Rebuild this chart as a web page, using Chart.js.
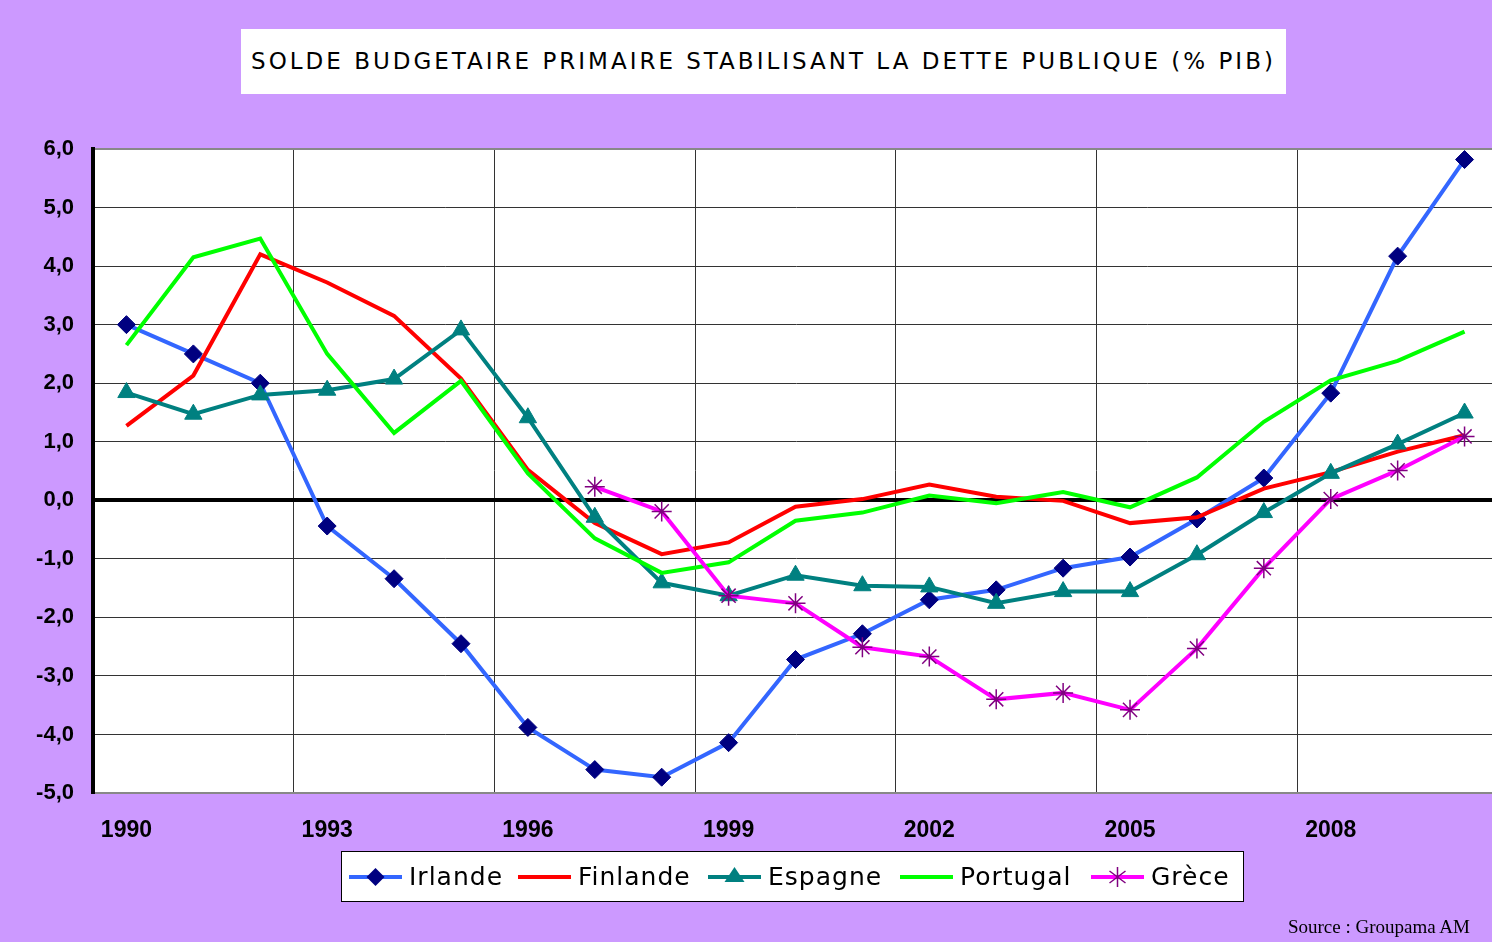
<!DOCTYPE html>
<html>
<head>
<meta charset="utf-8">
<script src="https://cdn.jsdelivr.net/npm/chart.js@4/dist/chart.umd.min.js"></script>
<style>
  body { margin: 0; background: #cc99ff; }
  #wrap { position: relative; width: 1492px; height: 942px; background: #cc99ff; overflow: hidden; }
  #title { position: absolute; left: 241px; top: 29px; width: 1045px; height: 65px; background: #fff;
           font: 23px "DejaVu Sans", sans-serif; letter-spacing: 3px; color: #000; text-align: center; line-height: 65px; }
  #source { position: absolute; right: 22px; top: 916px; font: 19px "Liberation Serif", serif; color: #000; }
</style>
</head>
<body>
<div id="wrap">
  <!-- plot area runs a few pixels past the right edge, as in the original -->
  <canvas id="chart" width="1498" height="942"></canvas>
  <div id="title">SOLDE BUDGETAIRE PRIMAIRE STABILISANT LA DETTE PUBLIQUE (% PIB)</div>
  <div id="source">Source : Groupama AM</div>
</div>
<script>
const years = ['1990','1991','1992','1993','1994','1995','1996','1997','1998','1999','2000',
               '2001','2002','2003','2004','2005','2006','2007','2008','2009','2010'];

const irlande  = [3.0, 2.5, 2.0, -0.44, -1.34, -2.45, -3.88, -4.60, -4.73, -4.14, -2.72,
                  -2.28, -1.70, -1.53, -1.16, -0.97, -0.32, 0.38, 1.83, 4.17, 5.82];
const finlande = [1.27, 2.13, 4.20, 3.72, 3.15, 2.08, 0.52, -0.39, -0.92, -0.72, -0.11,
                  0.02, 0.27, 0.06, -0.01, -0.39, -0.29, 0.20, 0.48, 0.83, 1.11];
const espagne  = [1.84, 1.47, 1.80, 1.88, 2.07, 2.91, 1.41, -0.29, -1.41, -1.63, -1.28,
                  -1.46, -1.48, -1.76, -1.56, -1.56, -0.93, -0.21, 0.46, 0.96, 1.49];
const portugal = [2.65, 4.15, 4.47, 2.50, 1.15, 2.04, 0.46, -0.65, -1.24, -1.06, -0.35,
                  -0.21, 0.08, -0.05, 0.14, -0.12, 0.39, 1.34, 2.05, 2.38, 2.88];
const grece    = [null, null, null, null, null, null, null, 0.23, -0.19, -1.63, -1.76,
                  -2.51, -2.67, -3.40, -3.29, -3.58, -2.53, -1.16, 0.02, 0.51, 1.09];

const series = [
  { label: 'Irlande',  data: irlande,  line: '#3366ff', mark: '#000080', style: 'rectRot',  r: 9 },
  { label: 'Finlande', data: finlande, line: '#ff0000', mark: null,      style: 'circle',   r: 0 },
  { label: 'Espagne',  data: espagne,  line: '#008080', mark: '#008080', style: 'triangle', r: 10 },
  { label: 'Portugal', data: portugal, line: '#00ff00', mark: null,      style: 'circle',   r: 0 },
  { label: 'Grèce',    data: grece,    line: '#ff00ff', mark: '#800080', style: 'star',     r: 10 }
];

// legend slots: x where each line sample starts
const legendX = [349, 518, 708, 900, 1091];

function drawMarker(ctx, s, x, y) {
  if (!s.mark) return;
  const r = s.r;
  ctx.save();
  ctx.fillStyle = s.mark;
  ctx.strokeStyle = s.mark;
  ctx.beginPath();
  if (s.style === 'rectRot') {
    ctx.moveTo(x, y - r); ctx.lineTo(x + r, y); ctx.lineTo(x, y + r); ctx.lineTo(x - r, y);
    ctx.closePath(); ctx.fill();
  } else if (s.style === 'triangle') {
    const h = r * 1.5;
    ctx.moveTo(x, y - h * 0.66); ctx.lineTo(x + r, y + h * 0.34); ctx.lineTo(x - r, y + h * 0.34);
    ctx.closePath(); ctx.fill();
  } else if (s.style === 'star') {
    ctx.lineWidth = 1.5;
    ctx.moveTo(x, y - r); ctx.lineTo(x, y + r);
    ctx.moveTo(x - r * 0.8, y - r * 0.6); ctx.lineTo(x + r * 0.8, y + r * 0.6);
    ctx.moveTo(x - r * 0.8, y + r * 0.6); ctx.lineTo(x + r * 0.8, y - r * 0.6);
    ctx.stroke();
  }
  ctx.restore();
}

const plotBg = {
  id: 'plotBg',
  beforeDraw(chart) {
    const a = chart.chartArea;
    chart.ctx.save();
    chart.ctx.fillStyle = '#fff';
    chart.ctx.fillRect(a.left, a.top, a.right - a.left, a.bottom - a.top);
    chart.ctx.restore();
  }
};

const legendBox = {
  id: 'legendBox',
  afterDraw(chart) {
    const ctx = chart.ctx;
    ctx.save();
    ctx.fillStyle = '#fff';
    ctx.fillRect(341, 851, 902, 50);
    ctx.strokeStyle = '#000';
    ctx.lineWidth = 1;
    ctx.strokeRect(341.5, 851.5, 902, 50);
    ctx.font = '25px "DejaVu Sans", sans-serif';
    if ('letterSpacing' in ctx) ctx.letterSpacing = '1px';
    ctx.textBaseline = 'middle';
    series.forEach((s, i) => {
      const x = legendX[i], y = 877;
      ctx.strokeStyle = s.line;
      ctx.lineWidth = 4;
      ctx.beginPath(); ctx.moveTo(x, y); ctx.lineTo(x + 53, y); ctx.stroke();
      drawMarker(ctx, s, x + 26.5, y);
      ctx.fillStyle = '#000';
      ctx.fillText(s.label, x + 60, y + 1);
    });
    ctx.restore();
  }
};

new Chart(document.getElementById('chart'), {
  type: 'line',
  data: {
    labels: years,
    datasets: series.map((s, i) => ({
      label: s.label,
      data: s.data,
      borderColor: s.line,
      borderWidth: 4,
      pointStyle: s.style,
      pointRadius: s.r,
      pointBackgroundColor: s.mark || s.line,
      pointBorderColor: s.mark || s.line,
      pointBorderWidth: s.style === 'star' ? 1.5 : 1,
      tension: 0,
      order: series.length - i
    }))
  },
  options: {
    responsive: false,
    animation: false,
    layout: { autoPadding: false, padding: { top: 149, bottom: 89, left: 0, right: 0 } },
    plugins: { legend: { display: false }, title: { display: false }, tooltip: { enabled: false } },
    scales: {
      x: {
        offset: true,
        grid: {
          offset: true,
          drawTicks: false,
          color: ctx => (ctx.index > 0 && ctx.index % 3 === 0) ? '#333' : 'rgba(0,0,0,0)',
          lineWidth: 1
        },
        border: { color: '#888', width: 2 },
        ticks: {
          autoSkip: false,
          maxRotation: 0,
          padding: 24,
          color: '#000',
          font: { family: '"Liberation Sans", Arial, sans-serif', size: 23, weight: 'bold' },
          callback: (v, i) => i % 3 === 0 ? years[i] : ''
        },
        afterFit: scale => { scale.height = 60; }
      },
      y: {
        min: -5,
        max: 6,
        grid: {
          drawTicks: false,
          color: ctx => ctx.tick.value === 0 ? '#000' : (ctx.tick.value === 6 ? '#888' : '#333'),
          lineWidth: ctx => ctx.tick.value === 0 ? 4 : (ctx.tick.value === 6 ? 2 : 1)
        },
        border: { color: '#000', width: 4 },
        ticks: {
          stepSize: 1,
          padding: 19,
          color: '#000',
          font: { family: '"Liberation Sans", Arial, sans-serif', size: 22, weight: 'bold' },
          callback: v => v.toFixed(1).replace('.', ',')
        },
        afterFit: scale => { scale.width = 93; }
      }
    }
  },
  plugins: [plotBg, legendBox]
});
</script>
</body>
</html>
